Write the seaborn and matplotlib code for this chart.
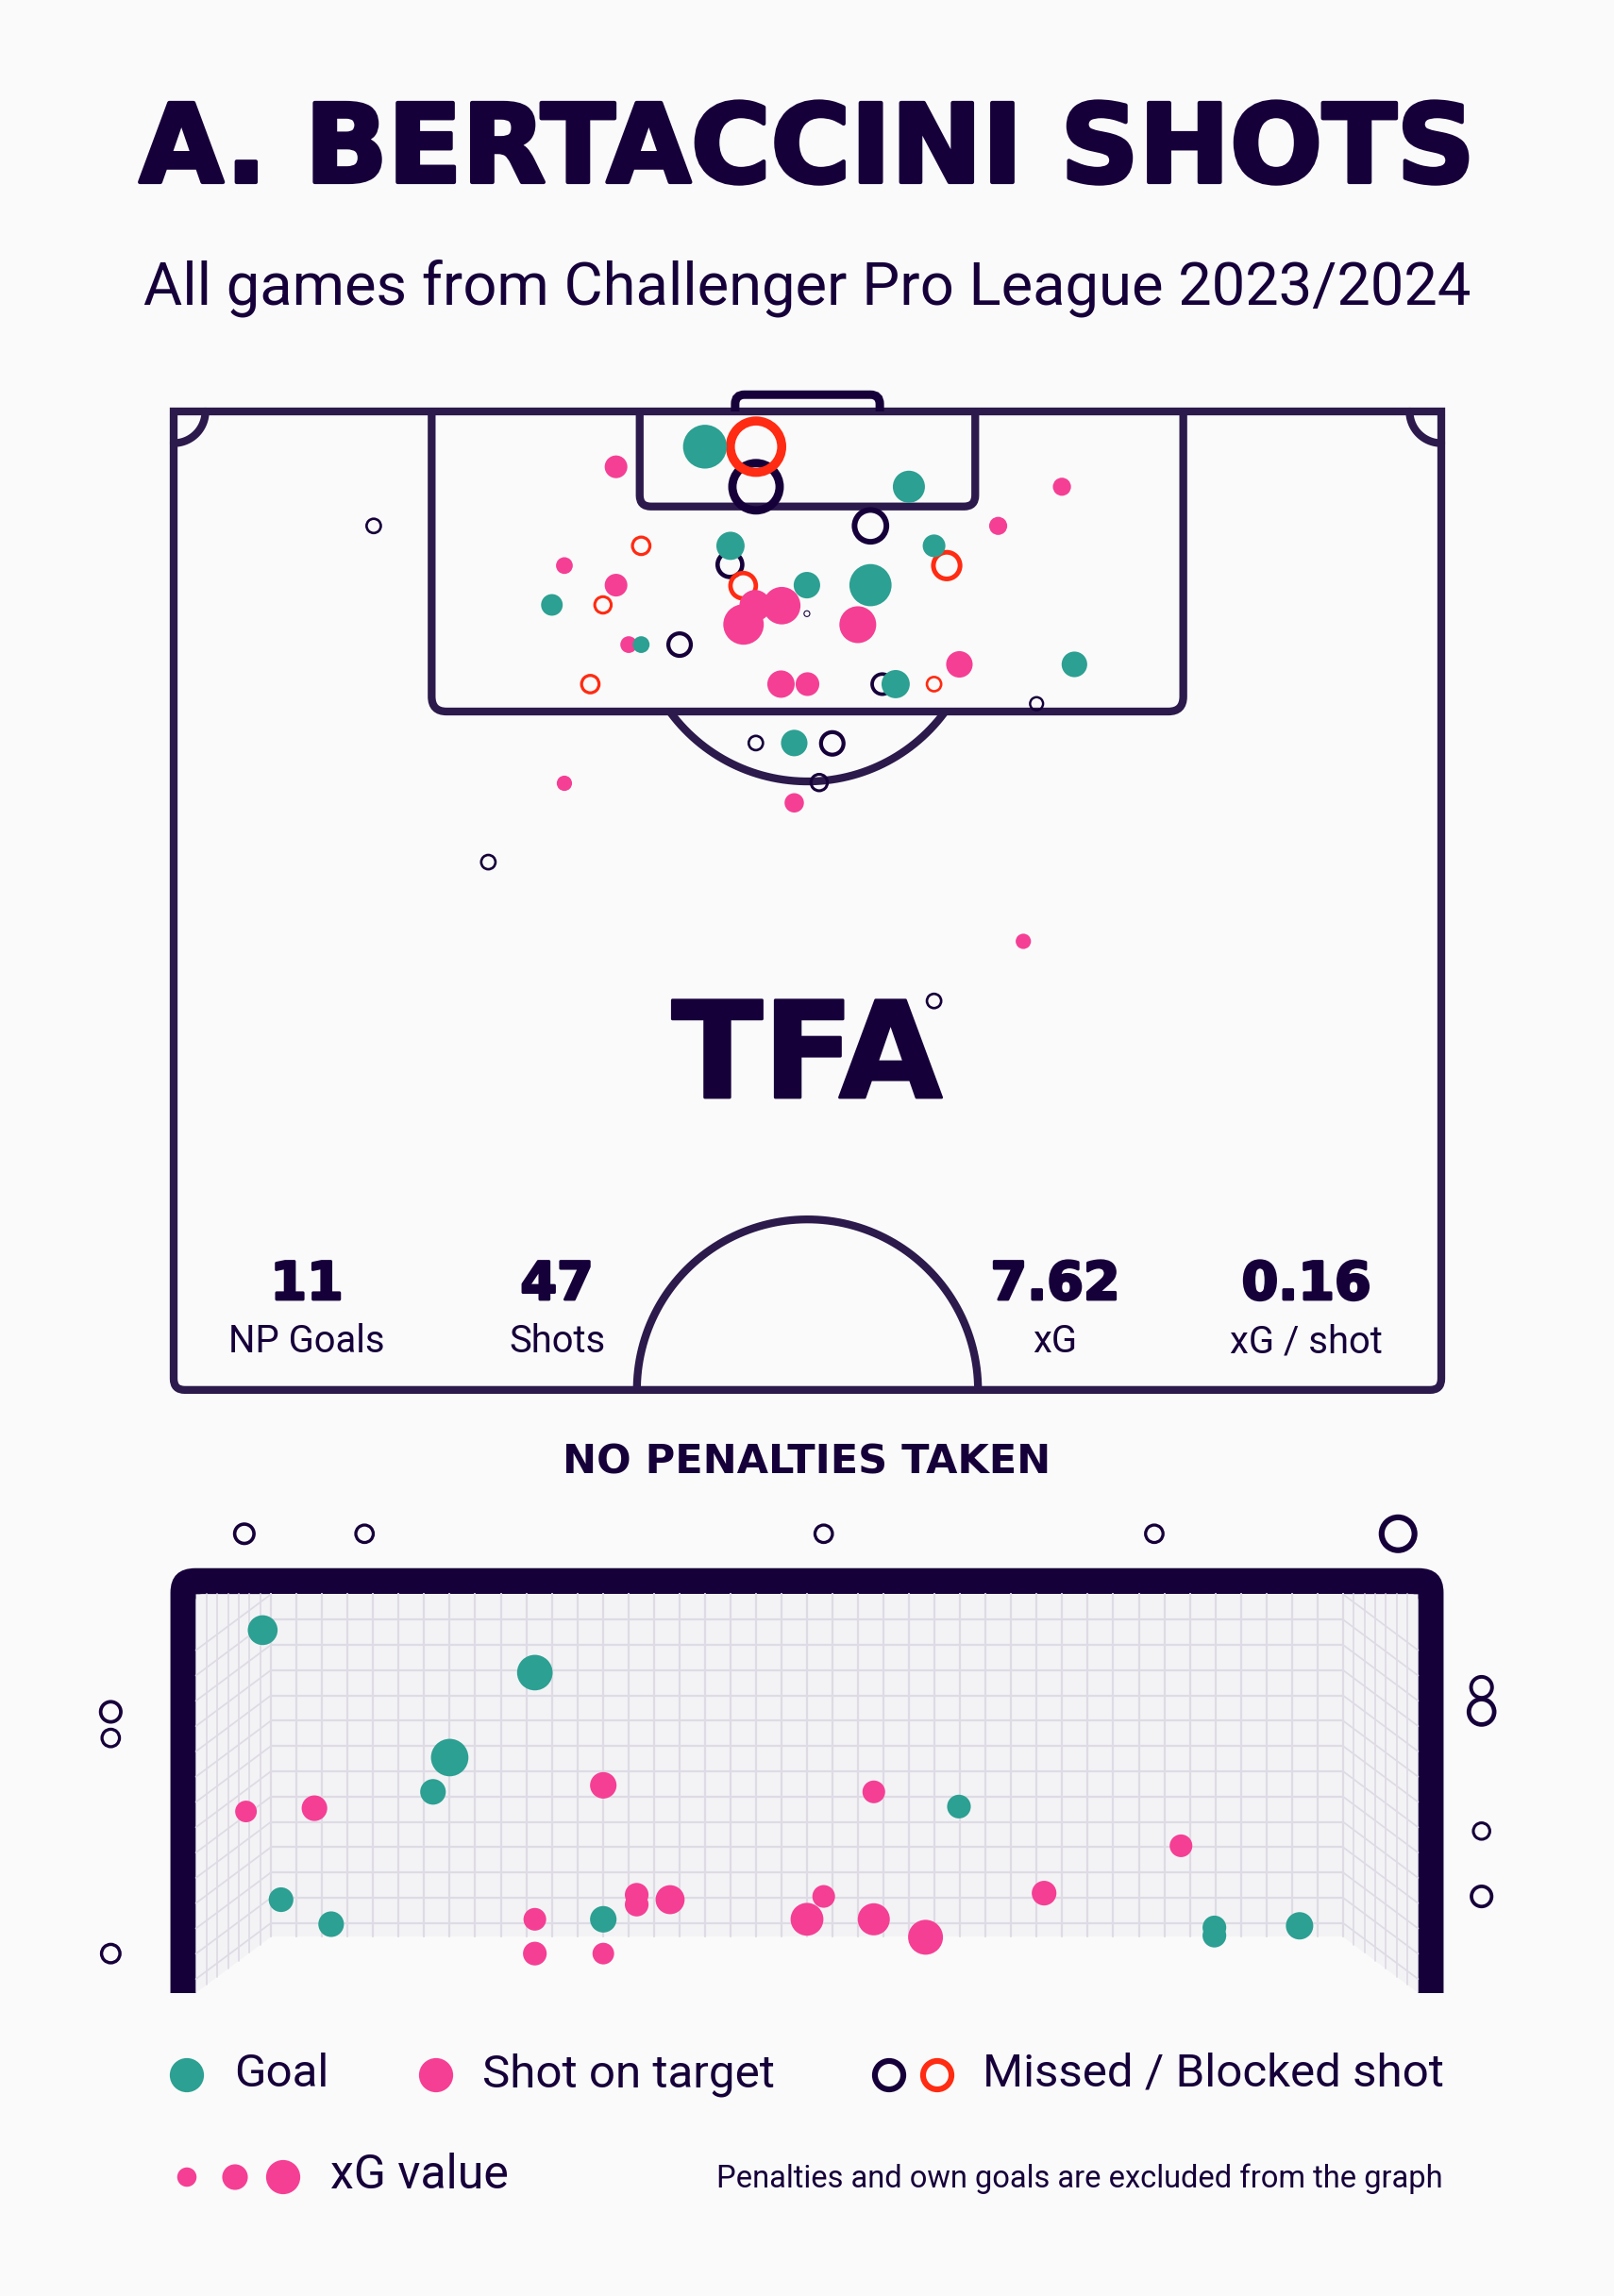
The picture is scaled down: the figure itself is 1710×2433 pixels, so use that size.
import numpy as np
import pandas as pd
import matplotlib
matplotlib.use("Agg")
import matplotlib.pyplot as plt
import matplotlib.patheffects as pe
import seaborn as sns
from matplotlib.patches import Rectangle, FancyBboxPatch, Polygon, PathPatch
from matplotlib.path import Path

W, H, DPI = 1710, 2433, 100
PT = 72 / DPI  # pixels -> points

BG = '#FAFAFA'
INK = '#16003A'
LINE = '#2B1A4B'
GOAL_C = '#2CA092'
ON_T = '#F53F94'
MISS_C = '#16003A'
BLOCK_C = '#FF2B12'
NET_BG = '#F3F3F6'
NET_LINE = '#DEDBE4'

title = 'A. BERTACCINI SHOTS'
subtitle = 'All games from Challenger Pro League 2023/2024'
stat_values = ['11', '47', '7.62', '0.16']
stat_labels = ['NP Goals', 'Shots', 'xG', 'xG / shot']
penalty_note = 'NO PENALTIES TAKEN'
footnote = 'Penalties and own goals are excluded from the graph'
legend_labels = ['Goal', 'Shot on target', 'Missed / Blocked shot', 'xG value']
legend_xg = [0.08, 0.14, 0.25]

# pitch shots: x across the pitch (m, 0-68), y = metres from the goal line
shot_x = [28.50, 31.24, 31.24, 23.73, 39.44, 47.65, 10.73, 37.38, 44.23, 25.08,
          29.87, 40.79, 29.84, 20.96, 41.47, 30.55, 23.73, 33.97, 37.38, 20.29,
          23.03, 31.19, 32.62, 33.97, 30.57, 36.70, 24.41, 25.08, 27.14, 22.35,
          32.58, 34.00, 38.01, 38.73, 40.79, 42.15, 48.32, 46.29, 31.23, 33.29,
          35.33, 34.63, 20.96, 33.29, 16.88, 45.58, 40.79]
shot_y = [1.89, 1.89, 4.04, 2.97, 4.04, 4.04, 6.14, 6.14, 6.14, 7.21,
          7.21, 7.21, 8.22, 8.27, 8.27, 9.35, 9.32, 9.32, 9.32, 10.38,
          10.38, 10.42, 10.42, 10.85, 11.43, 11.44, 12.51, 12.51, 12.51, 14.63,
          14.63, 14.63, 14.63, 14.63, 14.63, 13.57, 13.57, 15.68, 17.79, 17.79,
          17.81, 19.91, 19.95, 21.00, 24.18, 28.43, 31.63]
shot_xg = [0.41, 0.78, 0.66, 0.11, 0.22, 0.07, 0.06, 0.30, 0.07, 0.09,
           0.17, 0.11, 0.18, 0.06, 0.21, 0.19, 0.11, 0.15, 0.38, 0.10,
           0.08, 0.21, 0.30, 0.01, 0.35, 0.29, 0.06, 0.06, 0.15, 0.09,
           0.16, 0.12, 0.12, 0.17, 0.06, 0.15, 0.14, 0.05, 0.06, 0.15,
           0.15, 0.08, 0.05, 0.08, 0.06, 0.05, 0.06]
shot_outcome = ['goal', 'blocked', 'missed', 'on_target', 'goal', 'on_target', 'missed', 'missed', 'on_target', 'blocked',
                'goal', 'goal', 'missed', 'on_target', 'blocked', 'blocked', 'on_target', 'goal', 'goal', 'goal',
                'blocked', 'on_target', 'on_target', 'missed', 'on_target', 'on_target', 'on_target', 'goal', 'missed', 'blocked',
                'on_target', 'on_target', 'missed', 'goal', 'blocked', 'on_target', 'goal', 'missed', 'missed', 'goal',
                'missed', 'missed', 'on_target', 'on_target', 'missed', 'on_target', 'missed']

# goal view: x = metres from the goal centre, z = height (m)
gv_x = [-3.26, -1.63, -2.14, -2.24, -3.15, -2.85, -1.22, 0.91, 2.44, 2.44, 2.95,
        -3.36, -2.95, -1.22, -1.63, -1.02, -1.02, -0.82, 0.10, 0.00, -1.63, -1.22,
        0.40, 2.24, 0.40, 0.71, 1.42,
        -4.17, -4.17, -4.17, 4.04, 4.04, 4.04, 4.04, -3.37, -2.65, 0.10, 2.08, 3.54]
gv_z = [2.22, 1.96, 1.44, 1.23, 0.57, 0.42, 0.45, 1.14, 0.40, 0.35, 0.41,
        1.11, 1.13, 1.27, 0.45, 0.60, 0.54, 0.57, 0.59, 0.45, 0.24, 0.24,
        1.23, 0.90, 0.45, 0.34, 0.61,
        1.72, 1.56, 0.24, 1.87, 1.72, 0.99, 0.59, 2.81, 2.81, 2.81, 2.81, 2.81]
gv_xg = [0.19, 0.27, 0.30, 0.14, 0.13, 0.14, 0.15, 0.12, 0.12, 0.12, 0.16,
         0.10, 0.14, 0.15, 0.11, 0.12, 0.12, 0.18, 0.11, 0.23, 0.12, 0.10,
         0.11, 0.11, 0.22, 0.26, 0.13,
         0.12, 0.09, 0.10, 0.13, 0.19, 0.08, 0.12, 0.11, 0.09, 0.09, 0.09, 0.32]
gv_outcome = ['goal'] * 11 + ['on_target'] * 16 + ['missed'] * 12

sns.set_theme(style='white')
plt.rcParams['font.family'] = ['Roboto', 'DejaVu Sans']

fig = plt.figure(figsize=(W / DPI, H / DPI), dpi=DPI, facecolor=BG)


def px_axes(left, top, right, bottom):
    ax = fig.add_axes([left / W, 1 - bottom / H, (right - left) / W, (bottom - top) / H])
    ax.set_facecolor('none')
    ax.axis('off')
    return ax


# full-figure axes in pixel units for the texts
ax_bg = px_axes(0, 0, W, H)
ax_bg.set_xlim(0, W)
ax_bg.set_ylim(H, 0)


def marker_d(xg, scale=1.0):
    return 72.5 * np.sqrt(np.asarray(xg, dtype=float)) * scale


def draw_shots(ax, xs, ys, xg, outcome, ring_w=0.15):
    df = pd.DataFrame({'x': xs, 'y': ys, 'xg': xg, 'outcome': outcome})
    df['d'] = marker_d(df['xg'])
    styles = [('missed', MISS_C, True), ('blocked', BLOCK_C, True),
              ('on_target', ON_T, False), ('goal', GOAL_C, False)]
    for kind, color, ring in styles:
        sub = df[df['outcome'] == kind]
        if sub.empty:
            continue
        if ring:
            lw = ring_w * sub['d'].values
            sns.scatterplot(x=sub['x'].values, y=sub['y'].values,
                            s=((sub['d'].values - lw) * PT) ** 2,
                            facecolor='none', edgecolor=color, linewidth=lw * PT,
                            legend=False, ax=ax, zorder=10)
        else:
            sns.scatterplot(x=sub['x'].values, y=sub['y'].values,
                            s=(sub['d'].values * PT) ** 2, color=color,
                            edgecolor='none', linewidth=0,
                            legend=False, ax=ax, zorder=11)


# ---------------- pitch ----------------
M = 19.75          # px per metre
PX0, PY0 = 184, 436
ax_p = px_axes(0, 380, W, 1500)
ax_p.set_xlim((0 - PX0) / M, (W - PX0) / M)
ax_p.set_ylim((1500 - PY0) / M, (380 - PY0) / M)

LW = 8.3 * PT
MOVE, LIN, C3 = Path.MOVETO, Path.LINETO, Path.CURVE3


def add_path(ax, verts, codes, color=LINE, lw=LW, z=2):
    ax.add_patch(PathPatch(Path(verts, codes), fill=False, edgecolor=color, lw=lw,
                           joinstyle='miter', capstyle='butt', zorder=z))


def box(x0, x1, depth, r):
    # open box hanging from the goal line, rounded far corners
    verts = [(x0, 0), (x0, depth - r), (x0, depth), (x0 + abs(r), depth), (x1 - abs(r), depth),
             (x1, depth), (x1, depth - r), (x1, 0)]
    codes = [MOVE, LIN, C3, C3, LIN, C3, C3, LIN]
    return verts, codes


# outer lines (square top corners, rounded bottom corners)
r = 0.6
add_path(ax_p, [(0, 0), (68, 0), (68, 52.5 - r), (68, 52.5), (68 - r, 52.5), (r, 52.5),
                (0, 52.5), (0, 52.5 - r), (0, 0), (0, 0)],
         [MOVE, LIN, LIN, C3, C3, LIN, C3, C3, LIN, Path.CLOSEPOLY])
add_path(ax_p, *box(34 - 20.16, 34 + 20.16, 16.1, 0.8))
add_path(ax_p, *box(34 - 9.0, 34 + 9.0, 5.1, 0.6))
# goal (behind the goal line, so depth is negative)
add_path(ax_p, *box(34 - 3.88, 34 + 3.88, -0.9, -0.5), color=INK, lw=9 * PT)

# penalty arc
t = np.linspace(0, np.pi, 300)
arc_x = 34 + 9.15 * np.cos(t)
arc_y = 10.7 + 9.15 * np.sin(t)
keep = arc_y > 16.1
ax_p.plot(arc_x[keep], arc_y[keep], color=LINE, lw=LW, solid_capstyle='butt', zorder=2)
# centre circle
ax_p.plot(34 + 9.15 * np.cos(t), 52.5 - 9.15 * np.sin(t), color=LINE, lw=LW,
          solid_capstyle='butt', zorder=2)
# corner arcs
tc = np.linspace(0, np.pi / 2, 60)
ax_p.plot(1.7 * np.cos(tc), 1.7 * np.sin(tc), color=LINE, lw=LW, zorder=2)
ax_p.plot(68 - 1.7 * np.cos(tc), 1.7 * np.sin(tc), color=LINE, lw=LW, zorder=2)

draw_shots(ax_p, shot_x, shot_y, shot_xg, shot_outcome)

# ---------------- goal view ----------------
GX, GZ = 176.9, 173.1
GCX, GBY = 855, 2111.7
ax_g = px_axes(0, 1580, W, 2160)
ax_g.set_xlim((0 - GCX) / GX, (W - GCX) / GX)
ax_g.set_ylim((GBY - 2160) / GZ, (GBY - 1580) / GZ)

post = 27 / GX
bar = 27.6 / GZ
ax_g.add_patch(FancyBboxPatch((-3.66 - post, -0.3), 7.32 + 2 * post, 2.44 + bar + 0.3,
                              boxstyle='round,pad=0,rounding_size=0.15',
                              facecolor=INK, edgecolor='none', zorder=1))
ax_g.add_patch(FancyBboxPatch((-3.66, -0.3), 7.32, 2.74, boxstyle='round,pad=0,rounding_size=0.04',
                              facecolor=BG, edgecolor='none', zorder=2))
BW, BB = 3.21, 0.343
ax_g.add_patch(Rectangle((-BW, BB), 2 * BW, 2.44 - BB, facecolor=NET_BG, edgecolor='none', zorder=3))
for sgn in (-1, 1):
    ax_g.add_patch(Polygon([(sgn * 3.66, 2.44), (sgn * BW, 2.44), (sgn * BW, BB), (sgn * 3.66, 0)],
                           closed=True, facecolor=NET_BG, edgecolor='none', zorder=3))

NLW = 2.2 * PT
for xv in np.linspace(-BW, BW, 43):
    ax_g.plot([xv, xv], [BB, 2.44], color=NET_LINE, lw=NLW, zorder=4)
row_h = 26.8 / GZ
for k in range(0, 14):
    yv = 2.44 - k * row_h
    if k > 0:
        ax_g.plot([-BW, BW], [yv, yv], color=NET_LINE, lw=NLW, zorder=4)
    for sgn in (-1, 1):
        ax_g.plot([sgn * BW, sgn * 3.66], [yv, yv - BB], color=NET_LINE, lw=NLW * 0.8, zorder=4)
for xv in np.linspace(3.66, BW, 8)[1:-1]:
    ybot = BB * (3.66 - xv) / (3.66 - BW)
    for sgn in (-1, 1):
        ax_g.plot([sgn * xv, sgn * xv], [ybot, 2.44], color=NET_LINE, lw=NLW * 0.8, zorder=4)
ax_g.add_patch(Rectangle((-6, -1), 12, 1, facecolor=BG, edgecolor='none', zorder=5))

draw_shots(ax_g, gv_x, gv_z, gv_xg, gv_outcome)

# ---------------- texts ----------------
heavy = lambda w: [pe.withStroke(linewidth=w, foreground=INK)]

ax_bg.text(855, 193, title, ha='center', va='baseline', fontsize=83,
           family='DejaVu Sans', fontweight='bold', color=INK, path_effects=heavy(3))
ax_bg.text(855, 323, subtitle, ha='center', va='baseline', fontsize=45.5, color=INK)
ax_bg.text(855, 1163, 'TFA', ha='center', va='baseline', fontsize=102,
           family='DejaVu Sans', fontweight='bold', color=INK, path_effects=heavy(2))

for xc, val, lab in zip([325, 590, 1118, 1384], stat_values, stat_labels):
    ax_bg.text(xc, 1377, val, ha='center', va='baseline', fontsize=40,
               family='DejaVu Sans', fontweight='bold', color=INK, path_effects=heavy(2))
    ax_bg.text(xc, 1433, lab, ha='center', va='baseline', fontsize=28.8, color=INK)

ax_bg.text(855, 1561, penalty_note, ha='center', va='baseline', fontsize=31,
           family='DejaVu Sans', fontweight='bold', color=INK)

# legend
d_leg = marker_d(0.25)
sns.scatterplot(x=[198], y=[2199], s=[(d_leg * PT) ** 2], color=GOAL_C, edgecolor='none',
                linewidth=0, legend=False, ax=ax_bg)
sns.scatterplot(x=[462], y=[2199], s=[(d_leg * PT) ** 2], color=ON_T, edgecolor='none',
                linewidth=0, legend=False, ax=ax_bg)
ring_lw = 0.17 * d_leg
for xc, col in [(942, MISS_C), (993, BLOCK_C)]:
    sns.scatterplot(x=[xc], y=[2199], s=[((d_leg - ring_lw) * PT) ** 2], facecolor='none',
                    edgecolor=col, linewidth=ring_lw * PT, legend=False, ax=ax_bg)
sns.scatterplot(x=[198, 249, 300], y=[2307] * 3, s=(marker_d(legend_xg) * PT) ** 2,
                color=ON_T, edgecolor='none', linewidth=0, legend=False, ax=ax_bg)

for xl, lab in zip([248, 511, 1041], legend_labels[:3]):
    ax_bg.text(xl, 2211, lab, ha='left', va='baseline', fontsize=35.5, color=INK)
ax_bg.text(350, 2319, legend_labels[3], ha='left', va='baseline', fontsize=36, color=INK)
ax_bg.text(1529, 2318, footnote, ha='right', va='baseline', fontsize=23.5, color=INK)

fig.savefig('out.png', dpi=DPI, facecolor=BG)
